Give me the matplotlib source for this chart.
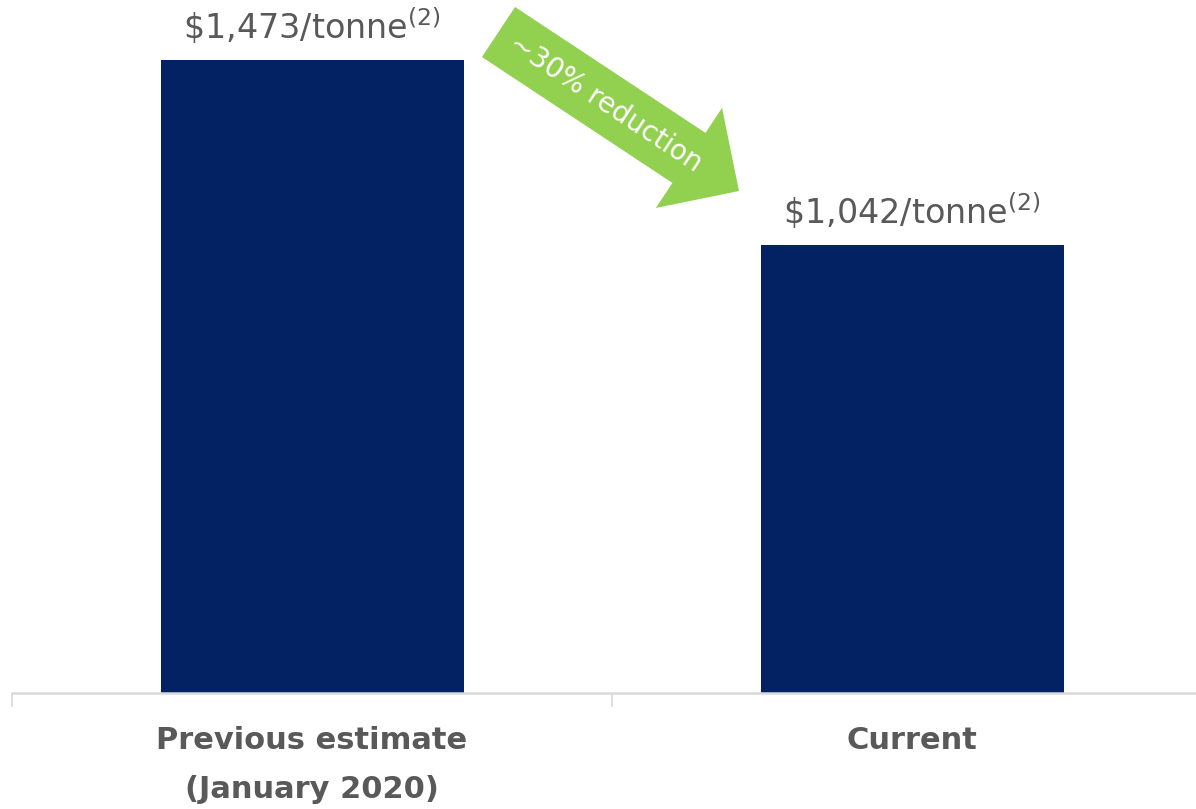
import matplotlib.pyplot as plt
from matplotlib.patches import FancyArrow

categories = ["Previous estimate\n(January 2020)", "Current"]
costs = [1473, 1042]
cost_labels = [r"\$1,473/tonne$^{(2)}$", r"\$1,042/tonne$^{(2)}$"]
arrow_text = "~30% reduction"

navy = "#022263"
green = "#92D050"
grey = "#595959"
line_grey = "#D9D9D9"

plt.rcParams['font.family'] = ['DejaVu Sans']
plt.rcParams['mathtext.fontset'] = 'dejavusans'

fig = plt.figure(figsize=(11.96, 8.09), dpi=100)
ax = fig.add_axes([12 / 1196, 116 / 809, 1200 / 1196, 693 / 809])

x = list(range(len(categories)))
bars = ax.bar(x, costs, width=0.505, color=navy)
ax.set_xlim(-0.5, 1.5)
ax.set_ylim(0, 1473 * 693 / 633)

# value labels above bars
for b, lab in zip(bars, cost_labels):
    ax.annotate(lab, (b.get_x() + b.get_width() / 2, b.get_height()),
                xytext=(0, 15), textcoords='offset points',
                ha='center', va='baseline', fontsize=24, color=grey)

# axis styling
for s in ['top', 'right', 'left']:
    ax.spines[s].set_visible(False)
ax.spines['bottom'].set_color(line_grey)
ax.spines['bottom'].set_linewidth(1.8)
ax.set_yticks([])
ax.set_xticks(x)
ax.set_xticklabels(categories, fontsize=22, fontweight='bold', color=grey,
                   linespacing=1.85)
ax.tick_params(axis='x', which='major', length=0, pad=24)
ax.set_xticks([-0.5, 0.5, 1.5], minor=True)
ax.tick_params(axis='x', which='minor', length=10, width=1.2, color=line_grey,
               direction='out')

# green arrow overlay in pixel space
ov = fig.add_axes([0, 0, 1, 1], facecolor='none')
ov.set_xlim(0, 1196)
ov.set_ylim(809, 0)
ov.axis('off')
tail = (498.5, 32)
tip = (739, 191)
ov.add_patch(FancyArrow(tail[0], tail[1], tip[0] - tail[0], tip[1] - tail[1],
                        width=60, head_width=120, head_length=60,
                        length_includes_head=True, color=green, lw=0))
ov.text(605, 104, arrow_text, rotation=-33.5, rotation_mode='anchor',
        ha='center', va='center', fontsize=20, color='white')

fig.savefig("out.png", dpi=100)
